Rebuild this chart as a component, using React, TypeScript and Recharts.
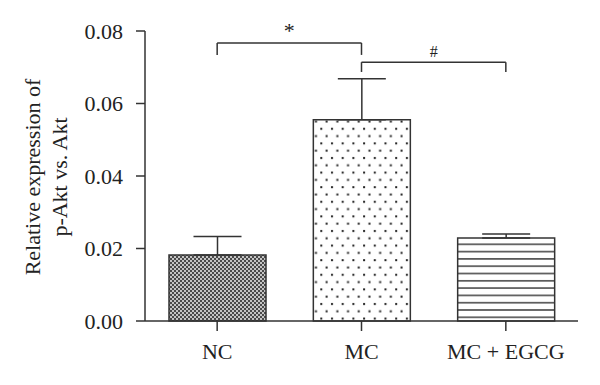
import { BarChart, Bar, XAxis, YAxis, ErrorBar, ReferenceLine } from 'recharts';

const groups = ['NC', 'MC', 'MC + EGCG'];
const means = [0.0182, 0.0555, 0.0229];
const sem = [0.0051, 0.0113, 0.0011];
const fills = ['url(#checker)', 'url(#dots)', 'url(#hlines)'];
const yTicks = [0, 0.02, 0.04, 0.06, 0.08];

const data = groups.map((g, i) => ({ name: g, value: means[i], err: [0, sem[i]], fill: fills[i] }));

const FONT = '"Liberation Serif", "DejaVu Serif", serif';
const INK = '#333';

function YLabel() {
  return (
    <g fontFamily={FONT} fontSize={22} fill="#222">
      <text x={32} y={169} transform="rotate(-90 32 169)" textAnchor="middle">
        Relative expression of
      </text>
      <text x={59} y={169} transform="rotate(-90 59 169)" textAnchor="middle">
        p-Akt vs. Akt
      </text>
    </g>
  );
}

export default function App() {
  return (
    <BarChart
      width={584}
      height={370}
      data={data}
      margin={{ top: 23, right: 14, bottom: 27, left: 0 }}
    >
      <defs>
        <pattern id="checker" width="4" height="4" patternUnits="userSpaceOnUse">
          <rect width="4" height="4" fill="#c4c4c4" />
          <rect x="0" y="0" width="2" height="2" fill="#4a4a4a" />
          <rect x="2" y="2" width="2" height="2" fill="#4a4a4a" />
        </pattern>
        <pattern id="dots" width="10.7" height="14.6" patternUnits="userSpaceOnUse">
          <rect width="10.7" height="14.6" fill="#fff" />
          <rect x="2" y="3" width="2" height="2" fill="#222" />
          <rect x="7.35" y="10.3" width="2" height="2" fill="#222" />
        </pattern>
        <pattern id="hlines" width="8" height="7.3" patternUnits="userSpaceOnUse">
          <rect width="8" height="7.3" fill="#fff" />
          <rect x="0" y="2" width="8" height="1.4" fill="#333" />
        </pattern>
      </defs>
      <XAxis
        dataKey="name"
        stroke={INK}
        strokeWidth={1.5}
        tickSize={10}
        tickMargin={12}
        tick={{ fill: '#222', fontFamily: FONT, fontSize: 22 }}
        tickLine={{ stroke: INK, strokeWidth: 1.5 }}
      />
      <YAxis
        width={137}
        domain={[0, 0.08]}
        ticks={yTicks}
        tickFormatter={(v: number) => v.toFixed(2)}
        stroke={INK}
        strokeWidth={1.5}
        tickSize={9}
        tickMargin={13}
        tick={{ fill: '#222', fontFamily: FONT, fontSize: 22 }}
        tickLine={{ stroke: INK, strokeWidth: 1.5 }}
        label={<YLabel />}
      />
      <Bar dataKey="value" barSize={97} stroke={INK} strokeWidth={1.5} isAnimationActive={false}>
        <ErrorBar dataKey="err" width={24} stroke={INK} strokeWidth={1.5} direction="y" />
      </Bar>
      <ReferenceLine
        segment={[{ x: 'NC', y: 0.0767 }, { x: 'MC', y: 0.0767 }]}
        stroke={INK}
        strokeWidth={1.5}
        label={{ value: '*', position: 'top', fill: '#222', fontFamily: FONT, fontSize: 22 }}
      />
      <ReferenceLine segment={[{ x: 'NC', y: 0.0767 }, { x: 'NC', y: 0.0734 }]} stroke={INK} strokeWidth={1.5} />
      <ReferenceLine segment={[{ x: 'MC', y: 0.0767 }, { x: 'MC', y: 0.0734 }]} stroke={INK} strokeWidth={1.5} />
      <ReferenceLine
        segment={[{ x: 'MC', y: 0.0714 }, { x: 'MC + EGCG', y: 0.0714 }]}
        stroke={INK}
        strokeWidth={1.5}
        label={{ value: '#', position: 'top', fill: '#222', fontFamily: FONT, fontSize: 16 }}
      />
      <ReferenceLine segment={[{ x: 'MC', y: 0.0714 }, { x: 'MC', y: 0.0687 }]} stroke={INK} strokeWidth={1.5} />
      <ReferenceLine
        segment={[{ x: 'MC + EGCG', y: 0.0714 }, { x: 'MC + EGCG', y: 0.0687 }]}
        stroke={INK}
        strokeWidth={1.5}
      />
    </BarChart>
  );
}
